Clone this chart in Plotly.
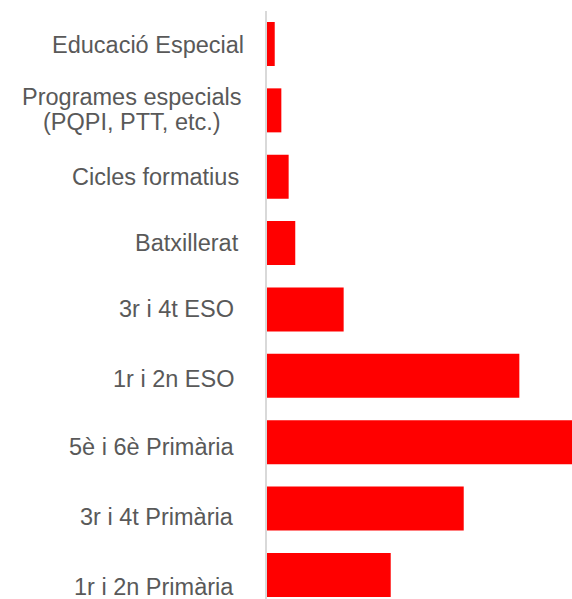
import plotly.graph_objects as go

# categories listed bottom -> top
categories = [
    "1r i 2n Primària",
    "3r i 4t Primària",
    "5è i 6è Primària",
    "1r i 2n ESO",
    "3r i 4t ESO",
    "Batxillerat",
    "Cicles formatius",
    "Programes especials<br>(PQPI, PTT, etc.)",
    "Educació Especial",
]
values = [12.17, 19.35, 30.0, 24.82, 7.54, 2.78, 2.13, 1.41, 0.76]

# label placement (style only): right edge in px and vertical nudge in px
label_right_px = [233.5, 233.5, 233.5, 234, 234, 239, 239, None, 244]
label_yshift = [-12.5, -8, -5, -3.5, 0.8, 0, 0, None, -1.5]
multi_label_lines = ["Programes especials", "(PQPI, PTT, etc.)"]
multi_label_yshift = [13.5, -11.5]
multi_label_center_px = 131.5

FONT = "Liberation Sans, Arial, sans-serif"
TXT = "#595959"
FS = 23.5
PLOT_L = 267
PLOT_W = 305

fig = go.Figure(
    go.Bar(
        x=values,
        y=categories,
        orientation="h",
        marker=dict(color="#FF0000", line=dict(width=0)),
        hoverinfo="skip",
    )
)

fig.update_layout(
    width=572,
    height=599,
    margin=dict(l=PLOT_L, r=0, t=11, b=0, pad=0),
    paper_bgcolor="white",
    plot_bgcolor="white",
    bargap=0.337,
    showlegend=False,
    font=dict(family=FONT, size=FS, color=TXT),
)
fig.update_xaxes(
    range=[0, 30],
    visible=False,
    showgrid=False,
    zeroline=False,
    fixedrange=True,
)
fig.update_yaxes(
    type="category",
    categoryorder="array",
    categoryarray=categories,
    range=[-0.362, 8.497],
    showticklabels=False,
    ticks="",
    showgrid=False,
    zeroline=False,
    showline=True,
    linecolor="#D9D9D9",
    linewidth=2,
    automargin=False,
    fixedrange=True,
)

# category labels, placed on the category axis
for cat, rpx, ys in zip(categories, label_right_px, label_yshift):
    if rpx is None:
        continue
    fig.add_annotation(
        x=(rpx - PLOT_L) / PLOT_W, xref="paper", y=cat, yref="y",
        text=cat, showarrow=False,
        xanchor="right", yanchor="middle", yshift=ys,
        borderpad=0, borderwidth=0,
        font=dict(family=FONT, size=FS, color=TXT),
    )

# two-line label, centred lines
for line, ys in zip(multi_label_lines, multi_label_yshift):
    fig.add_annotation(
        x=(multi_label_center_px - PLOT_L) / PLOT_W, xref="paper",
        y=categories[7], yref="y",
        text=line, showarrow=False,
        xanchor="center", yanchor="middle", yshift=ys,
        borderpad=0, borderwidth=0,
        font=dict(family=FONT, size=FS, color=TXT),
    )

fig.write_html(
    "out.html",
    config={"displayModeBar": False, "staticPlot": True},
    post_script="document.body.style.margin='0';document.body.style.overflow='hidden';document.documentElement.style.overflow='hidden';",
)
